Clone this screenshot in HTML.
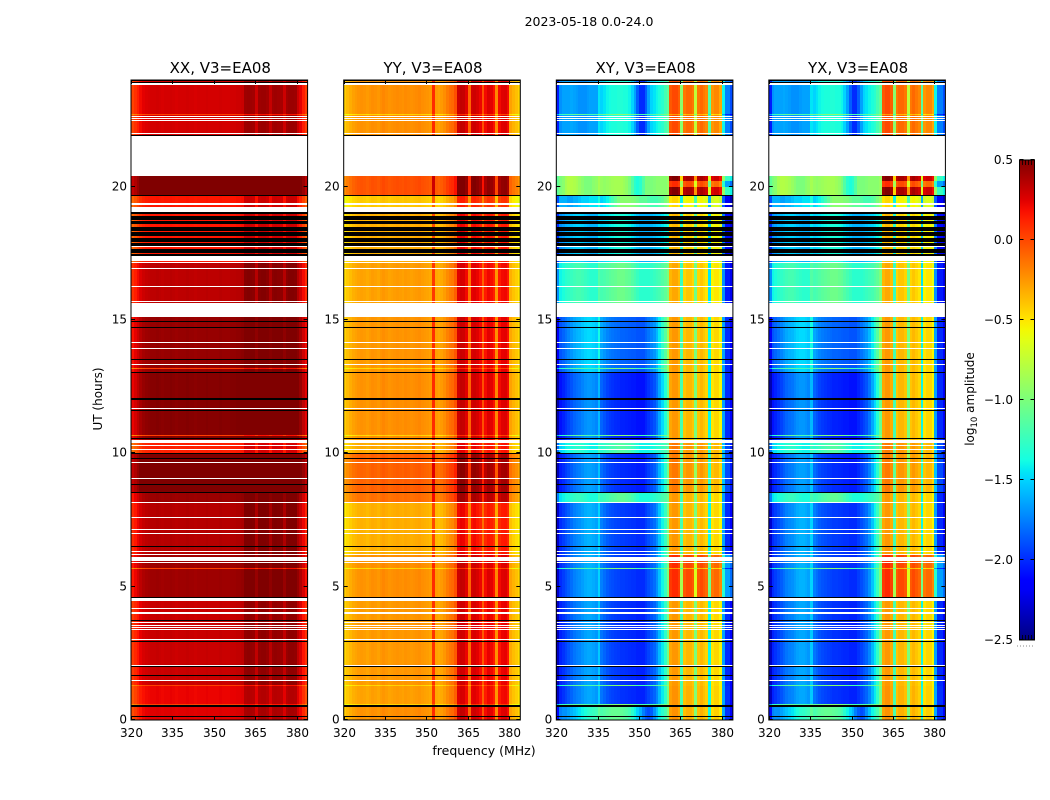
<!DOCTYPE html>
<html lang="en">
<head>
<meta charset="utf-8">
<title>2023-05-18 0.0-24.0</title>
<style>
html,body{margin:0;padding:0;background:#fff;}
svg{display:block;}
text{font-family:"DejaVu Sans","Liberation Sans",sans-serif;fill:#000;}
</style>
</head>
<body>
<svg id="fig" xmlns="http://www.w3.org/2000/svg" width="1050" height="800" viewBox="0 0 1050 800">
<rect x="0" y="0" width="1050" height="800" fill="#fff"/>
<text x="589" y="26" font-size="12.5" text-anchor="middle">2023-05-18 0.0-24.0</text>
<text transform="translate(102,399) rotate(-90)" font-size="12" text-anchor="middle">UT (hours)</text>
<text x="484" y="755" font-size="12.5" text-anchor="middle">frequency (MHz)</text>
<text transform="translate(974,399) rotate(-90)" font-size="12" text-anchor="middle">log<tspan font-size="8.5" dy="3">10</tspan><tspan dy="-3"> amplitude</tspan></text>
<defs>
<linearGradient id="jetGrad" x1="0" y1="1" x2="0" y2="0"></linearGradient>
</defs>
<g id="panels"></g>
<g id="colorbar"></g>
</svg>
<script>
/* ---------- data ---------- */
const panelTitles = ['XX, V3=EA08','YY, V3=EA08','XY, V3=EA08','YX, V3=EA08'];
const freqTicks = [320,335,350,365,380];
const utTicks = [0,5,10,15,20];
const colorbarTicks = [-2.5,-2,-1.5,-1,-0.5,0,0.5];

const WHITE = -1, BLACK = -2;

/* lower edge of each time row, UT hours */
const rowStartUT = [
0,.06,.09,.14,.16,.48,.55,.60,1.28,1.32,1.46,1.49,1.66,1.69,2.01,2.04,2.07,2.93,2.97,3.01,
3.04,3.38,3.41,3.45,3.49,3.54,3.56,3.63,3.66,3.72,3.75,3.99,4.06,4.16,4.20,4.43,4.46,4.48,4.58,4.61,
4.86,4.89,5.67,5.71,5.87,5.91,5.96,6.12,6.17,6.21,6.30,6.33,6.48,6.53,6.99,7.01,7.13,7.16,7.59,7.62,
8.13,8.18,8.52,8.55,8.82,8.85,9.05,9.08,9.65,9.68,9.80,9.83,9.98,10.00,10.14,10.16,10.29,10.31,10.38,10.51,
10.53,10.58,10.66,10.69,11.59,11.61,11.67,11.70,12.00,12.06,12.51,12.54,13.01,13.05,13.18,13.21,13.33,13.36,13.49,13.55,
13.92,13.95,14.15,14.18,14.70,14.73,14.93,14.95,15.11,15.62,15.69,15.72,16.24,16.26,16.56,16.59,16.91,16.95,17.14,17.19,
17.23,17.41,17.48,17.52,17.65,17.74,17.78,17.89,17.94,18.09,18.15,18.30,18.34,18.50,18.60,18.71,18.75,18.90,18.96,19.04,
19.22,19.33,19.37,19.65,19.69,20.0,20.2,20.40,21.92,21.95,21.99,22.02,22.48,22.50,22.54,22.58,22.61,22.65,22.71,22.74,
23.83,23.87,23.91,23.96
];
/* observing era of each row (WHITE = no data, BLACK = zero amplitude) */
const rowEra = [
12,-1,12,-2,12,-2,13,16,13,11,-1,11,-2,11,-2,-1,11,-2,11,-1,
11,-1,11,-1,11,-1,11,-1,11,-2,11,-1,11,-1,11,-1,11,-1,-2,10,
-1,10,13,10,-1,10,-1,10,-1,9,-1,9,-2,9,-1,9,-1,9,-1,9,
-1,8,-2,7,-2,7,-1,7,-1,7,-2,7,-2,14,-1,14,-1,14,-1,6,
-2,6,13,6,-2,6,-1,6,-2,6,-1,6,-2,5,13,5,-1,5,-2,5,
-1,5,-1,5,-2,5,-2,5,-1,4,-1,4,-1,4,-1,4,-1,4,-1,3,
-1,-2,3,-2,3,-1,-2,3,-2,3,-2,3,-2,3,-2,3,-2,3,-2,-1,
2,-1,2,-2,15,1,15,-1,-2,0,-1,0,-1,0,-1,0,-1,0,13,0,
-1,-2,0,-2
];

/* log10 amplitude per 1 MHz channel */
const xxSpectrum = [
.02,.08,.14,.2,.24,.26,.27,.28,.28,.29,
.28,.27,.28,.28,.29,.28,.27,.28,.28,.28,
.29,.28,.28,.27,.28,.28,.28,.29,.28,.28,
.28,.28,.29,.28,.28,.28,.29,.29,.3,.3,
.31,.42,.43,.42,.41,.3,.42,.43,.43,.41,
.32,.41,.42,.41,.4,.3,.41,.43,.43,.42,
.31,.24,.14,.04];
const yySpectrum = [
-.42,-.36,-.32,-.28,-.26,-.24,-.23,-.24,-.26,-.24,
-.22,-.23,-.25,-.22,-.2,-.22,-.24,-.23,-.22,-.21,
-.22,-.23,-.21,-.22,-.23,-.22,-.21,-.2,-.22,-.23,
-.24,-.26,.1,-.26,-.28,-.26,-.22,-.16,-.12,-.1,
-.02,.3,.33,.32,.25,-.08,.28,.3,.27,.22,
-.02,.2,.26,.24,.18,-.2,.2,.25,.26,.2,
-.28,-.34,-.38,-.44];
/* cross-hand: channels 0-40 */
const xyLeftCool = [
-2.3,-2.0,-1.95,-1.9,-1.85,-1.8,-1.75,-1.72,-1.7,-1.66,
-1.62,-1.6,-1.6,-1.62,-1.65,-1.5,-1.75,-1.8,-1.85,-1.88,
-1.9,-1.92,-1.93,-1.95,-1.95,-1.96,-1.97,-1.98,-1.98,-2.0,
-2.0,-2.0,-1.95,-1.9,-1.85,-1.8,-1.7,-1.55,-1.4,-1.25,-1.0];
const xyLeftTop = [
-1.9,-1.55,-1.5,-1.5,-1.5,-1.48,-1.5,-1.52,-1.55,-1.55,
-1.55,-1.52,-1.5,-1.5,-1.5,-1.3,-1.35,-1.3,-1.25,-1.22,
-1.2,-1.2,-1.18,-1.18,-1.2,-1.2,-1.25,-1.35,-1.5,-1.7,
-1.85,-1.85,-1.7,-1.5,-1.35,-1.3,-1.25,-1.2,-1.15,-1.05,-.95];
const xyLeftGreen = [
-1.1,-1.0,-.95,-.85,-.8,-.8,-.82,-.85,-.9,-.95,
-1.0,-1.0,-1.0,-.95,-.92,-.85,-.9,-.92,-.9,-.88,
-.86,-.85,-.85,-.85,-.88,-.92,-1.0,-1.15,-1.3,-1.35,
-1.3,-1.15,-1.0,-1.0,-1.0,-.98,-.95,-.95,-.95,-.95,-.9];
const xyLeftMid = [
-1.7,-1.4,-1.35,-1.3,-1.28,-1.25,-1.22,-1.2,-1.2,-1.22,
-1.25,-1.28,-1.3,-1.3,-1.3,-1.15,-1.2,-1.18,-1.15,-1.12,
-1.1,-1.08,-1.05,-1.05,-1.05,-1.08,-1.1,-1.15,-1.2,-1.25,
-1.3,-1.3,-1.3,-1.3,-1.28,-1.25,-1.22,-1.2,-1.15,-1.1,-1.0];
const xyLeftBottom = [
-2.1,-1.75,-1.7,-1.7,-1.65,-1.6,-1.55,-1.5,-1.45,-1.4,
-1.35,-1.3,-1.28,-1.25,-1.22,-1.1,-1.18,-1.15,-1.12,-1.1,
-1.08,-1.08,-1.08,-1.1,-1.12,-1.15,-1.2,-1.3,-1.4,-1.5,
-1.6,-1.75,-1.85,-1.9,-1.85,-1.7,-1.55,-1.4,-1.3,-1.2,-1.0];
const xyLeftDawn = [
-1.9,-1.6,-1.6,-1.6,-1.65,-1.65,-1.6,-1.6,-1.55,-1.5,
-1.5,-1.5,-1.45,-1.45,-1.45,-1.35,-1.5,-1.45,-1.4,-1.3,
-1.2,-1.1,-1.0,-.95,-.95,-.95,-.95,-.98,-1.0,-1.05,
-1.1,-1.1,-1.1,-1.15,-1.2,-1.2,-1.2,-1.15,-1.1,-1.0,-.9];
/* cross-hand: channels 41-63 */
const xyBand = [
-.4,-.35,-.35,-.42,-1.3,-.5,-.45,-.45,-.5,-1.1,
-.5,-.45,-.5,-.55,-1.5,-.6,-.55,-.55,-.65,-1.75,
-2.1,-2.1,-2.25];

const xyLeftShapes = [xyLeftCool,xyLeftTop,xyLeftGreen,xyLeftMid,xyLeftBottom,xyLeftDawn];
/* per-era level offsets; index = era */
const eraShiftXX   = [0,.3,-.12,-.12,.06,.16,.2,.3,.15,.08,.14,.03,-.03,-.25,-.15,.3,-.06];
const eraShiftYY   = [0,.2,-.18,-.1,-.05,-.02,0,.15,.1,-.1,0,-.03,0,-.22,-.08,.2,-.05];
const eraLeftShape = [1,2,5,3,3,0,0,0,3,0,0,0,4,3,3,2,0];
const eraLeftShift = [-.15,0,0,-.3,0,.12,-.08,-.05,-.05,0,0,-.03,0,.1,-.1,0,-.03];
const eraBandShift = [.35,.45,-.1,0,.05,.1,.1,.2,.1,.1,.45,.1,.12,.1,.2,.85,.12];

/* ---------- scales ---------- */
const NS = 'http://www.w3.org/2000/svg';
const CHANNELS = 64, FREQ_MIN = 320, FREQ_MAX = 384, UT_MIN = 0, UT_MAX = 24;
const VMIN = -2.5, VMAX = 0.5;
const PLOT_TOP = 80, PLOT_BOTTOM = 720, PLOT_W = 176.6;
const layoutPanelLeft = [131,343.7,556.3,768.8];
function xScale(left, mhz){ return left + (mhz-FREQ_MIN)/(FREQ_MAX-FREQ_MIN)*PLOT_W; }
function yScale(ut){ return PLOT_BOTTOM - (ut-UT_MIN)/(UT_MAX-UT_MIN)*(PLOT_BOTTOM-PLOT_TOP); }
function ramp(t,pts){
  for(let i=1;i<pts.length;i++){
    if(t<=pts[i][0]){
      const a=pts[i-1],b=pts[i];
      return a[1]+(b[1]-a[1])*(t-a[0])/(b[0]-a[0]);
    }
  }
  return pts[pts.length-1][1];
}
function jet(v){
  const t=Math.max(0,Math.min(1,(v-VMIN)/(VMAX-VMIN)));
  const r=ramp(t,[[0,0],[.35,0],[.66,1],[.89,1],[1,.5]]);
  const g=ramp(t,[[0,0],[.125,0],[.375,1],[.64,1],[.91,0],[1,0]]);
  const b=ramp(t,[[0,.5],[.11,1],[.34,1],[.65,0],[1,0]]);
  return 'rgb('+Math.round(r*255)+','+Math.round(g*255)+','+Math.round(b*255)+')';
}
function valueXX(era,ch){ return xxSpectrum[ch]+eraShiftXX[era]; }
function valueYY(era,ch){ return yySpectrum[ch]+eraShiftYY[era]; }
function valueXY(era,ch){
  return ch<41 ? xyLeftShapes[eraLeftShape[era]][ch]+eraLeftShift[era] : xyBand[ch-41]+eraBandShift[era];
}
const panelValue = [valueXX,valueYY,valueXY,valueXY];
const panelSlug = ['xx','yy','xy','yx'];

function svgEl(tag,attrs){
  const el=document.createElementNS(NS,tag);
  for(const k in attrs) el.setAttribute(k,attrs[k]);
  return el;
}

/* ---------- panels ---------- */
const panelsRoot=document.getElementById('panels');
panelTitles.forEach(function(title,p){
  const left=layoutPanelLeft[p];
  const g=svgEl('g',{});
  
  
  panelsRoot.appendChild(g);

  const heat=svgEl('g',{'shape-rendering':'crispEdges'});
  
  
  g.appendChild(heat);

  const xFirst=Math.round(xScale(left,FREQ_MIN));
  const xLast=Math.round(xScale(left,FREQ_MAX));
  rowStartUT.forEach(function(start,r){
    const end = r+1<rowStartUT.length ? rowStartUT[r+1] : UT_MAX;
    const era = rowEra[r];
    if(era===WHITE) return;
    const yTop=Math.round(yScale(end)), yBot=Math.round(yScale(start));
    const h=Math.max(1,yBot-yTop);
    if(era===BLACK){
      const band=svgEl('rect',{x:xFirst,y:yTop,width:xLast-xFirst,height:h,fill:'#000'});
      
      
      heat.appendChild(band);
      return;
    }
    for(let ch=0;ch<CHANNELS;ch++){
      const x0=Math.round(xScale(left,FREQ_MIN+ch));
      const x1=Math.round(xScale(left,FREQ_MIN+ch+1));
      const cell=svgEl('rect',{x:x0,y:yTop,width:x1-x0,height:h,fill:jet(panelValue[p](era,ch))});
      
      
      heat.appendChild(cell);
    }
  });

  const frame=svgEl('rect',{x:left,y:PLOT_TOP,width:PLOT_W,height:PLOT_BOTTOM-PLOT_TOP,fill:'none',stroke:'#000','stroke-width':1});
  
  
  g.appendChild(frame);

  const heading=svgEl('text',{x:left+PLOT_W/2+1,y:73,'font-size':15,'text-anchor':'middle'});
  heading.textContent=title;
  
  
  g.appendChild(heading);

  freqTicks.forEach(function(f){
    const x=Math.round(xScale(left,f))+.5;
    const tickB=svgEl('line',{x1:x,x2:x,y1:PLOT_BOTTOM,y2:PLOT_BOTTOM-4,stroke:'#000'});
    
    
    g.appendChild(tickB);
    const tickT=svgEl('line',{x1:x,x2:x,y1:PLOT_TOP,y2:PLOT_TOP+4,stroke:'#000'});
    
    
    g.appendChild(tickT);
    const lab=svgEl('text',{x:x,y:737,'font-size':12,'text-anchor':'middle'});
    lab.textContent=String(f);
    
    
    g.appendChild(lab);
  });
  utTicks.forEach(function(u){
    const y=Math.round(yScale(u))-.5;
    const tickL=svgEl('line',{x1:left,x2:left+4,y1:y,y2:y,stroke:'#000'});
    
    
    g.appendChild(tickL);
    const tickR=svgEl('line',{x1:left+PLOT_W,x2:left+PLOT_W-4,y1:y,y2:y,stroke:'#000'});
    
    
    g.appendChild(tickR);
    const lab=svgEl('text',{x:left-4,y:y+4,'font-size':12,'text-anchor':'end'});
    lab.textContent=String(u);
    
    
    g.appendChild(lab);
  });
});

/* ---------- colorbar ---------- */
const CB_LEFT=1019.5, CB_W=15, CB_TOP=160, CB_BOTTOM=640;
function cbScale(v){ return CB_BOTTOM-(v-VMIN)/(VMAX-VMIN)*(CB_BOTTOM-CB_TOP); }
const grad=document.getElementById('jetGrad');
for(let i=0;i<=48;i++){
  const stop=svgEl('stop',{offset:(i/48),'stop-color':jet(VMIN+(VMAX-VMIN)*i/48)});
  
  
  grad.appendChild(stop);
}
const cbRoot=document.getElementById('colorbar');
const cbRect=svgEl('rect',{x:CB_LEFT,y:CB_TOP,width:CB_W,height:CB_BOTTOM-CB_TOP,fill:'url(#jetGrad)',stroke:'#000','stroke-width':1});


cbRoot.appendChild(cbRect);
colorbarTicks.forEach(function(v){
  const y=Math.round(cbScale(v))-.5;
  const a=svgEl('line',{x1:CB_LEFT,x2:CB_LEFT+4,y1:y,y2:y,stroke:'#000'});
  
  
  cbRoot.appendChild(a);
  const b=svgEl('line',{x1:CB_LEFT+CB_W,x2:CB_LEFT+CB_W-4,y1:y,y2:y,stroke:'#000'});
  
  
  cbRoot.appendChild(b);
  const lab=svgEl('text',{x:1013,y:y+4.5,'font-size':12,'text-anchor':'end'});
  lab.textContent=(v<0?'\u2212':'')+Math.abs(v).toFixed(1);
  
  
  cbRoot.appendChild(lab);
});
[1,2,3,4].forEach(function(k){
  const x=CB_LEFT+k*3;
  const top=svgEl('line',{x1:x,x2:x,y1:CB_TOP,y2:CB_TOP+5,stroke:'#000','stroke-width':.8});
  
  
  cbRoot.appendChild(top);
  const bot=svgEl('line',{x1:x,x2:x,y1:CB_BOTTOM,y2:CB_BOTTOM-5,stroke:'#000','stroke-width':.8});
  
  
  cbRoot.appendChild(bot);
});
const dots=svgEl('line',{x1:1017,x2:1035,y1:646,y2:646,stroke:'#888','stroke-width':1,'stroke-dasharray':'1 2'});


cbRoot.appendChild(dots);
</script>
</body>
</html>
